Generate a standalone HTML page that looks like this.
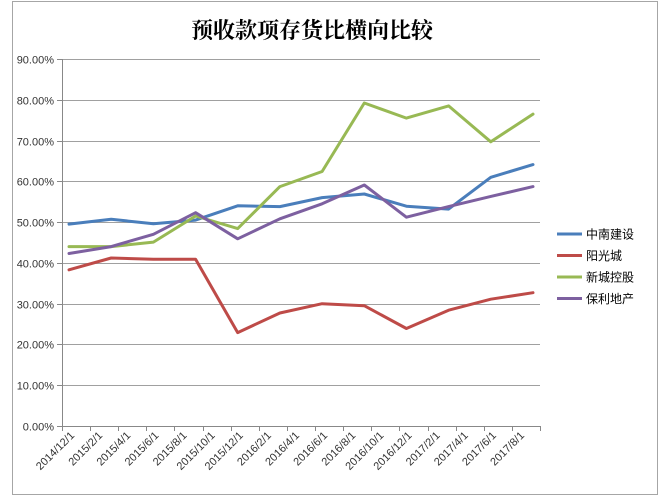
<!DOCTYPE html>
<html><head><meta charset="utf-8"><style>
body{margin:0;background:#fff;}
svg{display:block;font-family:"Liberation Sans","Noto Sans CJK SC",sans-serif;}
</style></head><body>
<svg id="chart" width="660" height="498" viewBox="0 0 660 498">
<rect x="12.5" y="1.5" width="645" height="493" fill="#fff" stroke="#a6a6a6"/>
<text x="312" y="38" text-anchor="middle" font-family="'Noto Serif CJK SC',serif" font-weight="bold" font-size="22" fill="#000">预收款项存货比横向比较</text>
<g id="grid"></g><g id="axes"></g><g id="series"></g><g id="legend"></g>
</svg>
<script>
const months = ["2014/12/1","2015/2/1","2015/4/1","2015/6/1","2015/8/1","2015/10/1","2015/12/1","2016/2/1","2016/4/1","2016/6/1","2016/8/1","2016/10/1","2016/12/1","2017/2/1","2017/4/1","2017/6/1","2017/8/1"];
const pointMonthIdx = [0,3,6,9,12,15,18,21,24,27,30,33];
const yTicks = [0,10,20,30,40,50,60,70,80,90];
const seriesNames = ["中南建设","阳光城","新城控股","保利地产"];
const seriesColors = ["#4a7ebb","#be4b48","#98b954","#7d60a0"];
const zhongnan = [49.5,50.7,49.6,50.5,54.0,53.8,56.0,56.9,53.9,53.2,61.0,64.1];
const yangguang = [38.3,41.2,40.9,40.9,22.9,27.7,30.0,29.5,23.9,28.4,31.1,32.7];
const xincheng = [44.0,44.0,45.1,51.5,48.4,58.7,62.4,79.2,75.5,78.5,69.7,76.5];
const baoli = [42.3,44.0,47.0,52.3,45.9,50.8,54.5,59.1,51.2,53.8,56.3,58.7];
const allSeries = [zhongnan,yangguang,xincheng,baoli];

const NS="http://www.w3.org/2000/svg";
const X0=62,X1=540,Y0=426,Y90=59;
const monthW=(X1-X0)/34;
const xOfMonth=m=>X0+monthW/2+m*monthW;
const y=v=>Y0-(v/90)*(Y0-Y90);
function mk(tag,attrs,parent){const e=document.createElementNS(NS,tag);for(const k in attrs)e.setAttribute(k,attrs[k]);parent.appendChild(e);return e;}
const grid=document.getElementById('grid'),axes=document.getElementById('axes'),ser=document.getElementById('series'),leg=document.getElementById('legend');
yTicks.forEach(t=>{
  const yy=Math.round(y(t))+0.5;
  if(t>0){const l=mk('line',{x1:X0,x2:X1,y1:yy,y2:yy,stroke:'#a0a0a0','stroke-width':1},grid);
  
  }
  const tk=mk('line',{x1:X0-5,x2:X0,y1:yy,y2:yy,stroke:'#888'},axes);
  
  
  const tx=mk('text',{x:X0-8,y:yy+4,'text-anchor':'end','font-size':11,fill:'#333'},axes);
  tx.textContent=t.toFixed(2)+'%';
  
  
});
const ya=mk('line',{x1:X0+0.5,x2:X0+0.5,y1:Y90,y2:Y0,stroke:'#888'},axes);


const xa=mk('line',{x1:X0,x2:X1,y1:Y0+0.5,y2:Y0+0.5,stroke:'#888'},axes);


for(let i=0;i<=months.length;i++){
  const xx=Math.round(X0+i*2*monthW)+0.5;
  const tk=mk('line',{x1:xx,x2:xx,y1:Y0,y2:Y0+5,stroke:'#888'},axes);
  
  
}
months.forEach((m,i)=>{
  const xx=xOfMonth(i*2)+6, yy=Y0+10;
  const tx=mk('text',{x:xx,y:yy,'text-anchor':'end','font-size':11,fill:'#333',transform:`rotate(-45 ${xx} ${yy})`},axes);
  tx.textContent=m;
  
  
});
allSeries.forEach((vals,si)=>{
  const pts=vals.map((v,i)=>xOfMonth(pointMonthIdx[i]).toFixed(1)+','+y(v).toFixed(1)).join(' ');
  const pl=mk('polyline',{points:pts,fill:'none',stroke:seriesColors[si],'stroke-width':3,'stroke-linejoin':'round','stroke-linecap':'round'},ser);
  
  
  const ly=234+si*21.5;
  const g=mk('g',{},leg);
  
  
  mk('line',{x1:557,x2:582,y1:ly,y2:ly,stroke:seriesColors[si],'stroke-width':3},g);
  const tx=mk('text',{x:586,y:ly+4.5,'font-size':12,fill:'#000'},g);
  tx.textContent=seriesNames[si];
});
</script>
</body></html>
